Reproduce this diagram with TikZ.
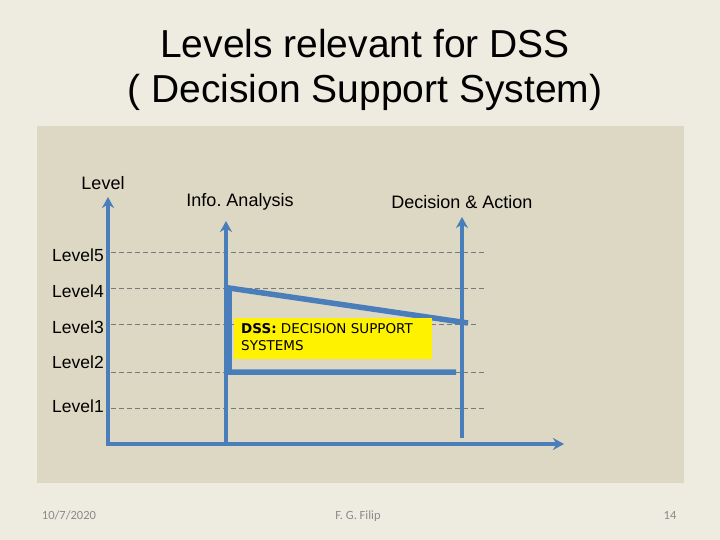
\documentclass[tikz,border=0pt]{standalone}
\usepackage{fontspec}
\setmainfont{Liberation Sans}
\newfontfamily\dvsans{DejaVu Sans}
\newfontfamily\carl{Carlito}
\usetikzlibrary{arrows.meta}
\frenchspacing
\definecolor{pagebg}{HTML}{EEEBE0}
\definecolor{panelbg}{HTML}{DDD8C3}
\definecolor{axblue}{HTML}{4A7EBB}
\definecolor{dashgray}{HTML}{7A7A7A}
\definecolor{footgray}{HTML}{8A8A8A}
\tikzset{
  axis/.style={draw=axblue, line width=4pt, -{Stealth[length=11pt,width=12pt,inset=3.5pt]}},
  dssline/.style={draw=axblue, line width=5.5pt},
  lvl/.style={dashgray, dashed, dash pattern=on 5pt off 3pt, line width=0.8pt},
  lvllabel/.style={anchor=west, inner sep=0pt, font=\fontsize{17.5}{20}\selectfont},
  axlabel/.style={inner sep=0pt, font=\fontsize{18}{21}\selectfont},
  foot/.style={inner sep=0pt, anchor=base, text=footgray, font=\carl\fontsize{12.5}{14}\selectfont}
}
\begin{document}
\begin{tikzpicture}[x=1pt,y=-1pt]
\fill[pagebg] (0,0) rectangle (720,540);
\useasboundingbox (0,0) rectangle (720,540);
\fill[panelbg] (37,126) rectangle (684,483);
% title
\node[inner sep=0pt, align=center, font=\fontsize{39}{45}\selectfont] (title) at (365,70)
  {Levels relevant for DSS\\( Decision Support System)};
% dashed level lines
\coordinate (l5a) at (111,252); \coordinate (l5b) at (484,252);
\coordinate (l4a) at (111,288); \coordinate (l4b) at (484,288);
\coordinate (l3a) at (111,324); \coordinate (l3b) at (478,324);
\coordinate (l2a) at (111,372); \coordinate (l2b) at (484,372);
\coordinate (l1a) at (111,408); \coordinate (l1b) at (484,408);
\draw[lvl] (l5a) -- (l5b);
\draw[lvl] (l4a) -- (l4b);
\draw[lvl] (l3a) -- (l3b);
\draw[lvl] (l2a) -- (l2b);
\draw[lvl] (l1a) -- (l1b);
% level labels
\node[lvllabel] (L5) at (52,255) {Level5};
\node[lvllabel] (L4) at (52,291) {Level4};
\node[lvllabel] (L3) at (52,327) {Level3};
\node[lvllabel] (L2) at (52,362) {Level2};
\node[lvllabel] (L1) at (52,406) {Level1};
% axes
\coordinate (origin) at (108,444);
\coordinate (xstart) at (106,444);
\coordinate (ytip) at (108,197);
\coordinate (xtip) at (564,444);
\coordinate (ibase) at (226,444);
\coordinate (itip) at (226,221);
\coordinate (dbase) at (462,438);
\coordinate (dtip) at (462,217);
\draw[axis] (origin) -- (ytip);
\draw[axis] (xstart) -- (xtip);
\draw[axis] (ibase) -- (itip);
\draw[axis] (dbase) -- (dtip);
% axis labels
\node[axlabel] (ylab) at (103,183) {Level};
\node[axlabel] (ilab) at (240,202) {Info. Analysis};
\node[axlabel] (dlab) at (462,202) {Decision \& Action};
% DSS shape
\coordinate (d1) at (468,323);
\coordinate (d2) at (229,288);
\coordinate (d3) at (229,372);
\coordinate (d4) at (456,372);
\draw[dssline, line join=miter] (d1) -- (d2) -- (d3) -- (d4);
% yellow box
\fill[yellow] (234,318) rectangle (432,359);
\node[anchor=north west, inner sep=0pt, align=left, font=\dvsans\fontsize{13.5}{17}\selectfont] (dss) at (241,323)
  {\textbf{DSS:} DECISION SUPPORT\\SYSTEMS};
% footer
\node[foot] (date) at (69,519) {10/7/2020};
\node[foot] (auth) at (358,519) {F. G. Filip};
\node[foot] (page) at (670,519) {14};
\end{tikzpicture}
\end{document}
